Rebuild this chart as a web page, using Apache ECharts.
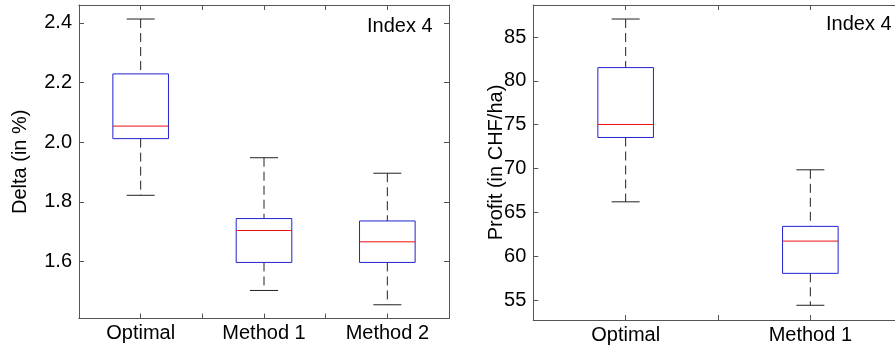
<!DOCTYPE html>
<html>
<head>
<meta charset="utf-8">
<script src="https://cdn.jsdelivr.net/npm/echarts@6/dist/echarts.min.js"></script>
<style>
  html, body { margin: 0; padding: 0; background: #fff; }
  #chart { width: 895px; height: 352px; }
</style>
</head>
<body>
<div id="chart"></div>
<script>
// Left panel: Delta (in %)
const deltaCategories = ['Optimal', 'Method 1', 'Method 2'];
const deltaLow = [1.822, 1.503, 1.455];
const deltaQ1 = [2.012, 1.597, 1.597];
const deltaMedian = [2.054, 1.704, 1.666];
const deltaQ3 = [2.229, 1.744, 1.736];
const deltaHigh = [2.413, 1.948, 1.896];
const deltaTicks = [1.6, 1.8, 2.0, 2.2, 2.4];

// Right panel: Profit (in CHF/ha)
const profitCategories = ['Optimal', 'Method 1'];
const profitLow = [66.2, 54.4];
const profitQ1 = [73.54, 58.04];
const profitMedian = [75.02, 61.72];
const profitQ3 = [81.51, 63.4];
const profitHigh = [87.05, 69.85];
const profitTicks = [55, 60, 65, 70, 75, 80, 85];

const FONT = 'Liberation Sans, Arial, Helvetica, sans-serif';
const FRAME = '#555';
const BOX_HALF = 27.8;
const CAP_HALF = 14;

function boxRows(low, q1, med, q3, high) {
  return low.map((v, i) => [i, v, q1[i], med[i], q3[i], high[i]]);
}

function renderBox(params, api) {
  const x = api.value(0);
  const pLow = api.coord([x, api.value(1)]);
  const pQ1 = api.coord([x, api.value(2)]);
  const pMed = api.coord([x, api.value(3)]);
  const pQ3 = api.coord([x, api.value(4)]);
  const pHigh = api.coord([x, api.value(5)]);
  const cx = pMed[0];
  const whisker = { stroke: '#222', lineWidth: 1, lineDash: [9, 5] };
  const cap = { stroke: '#222', lineWidth: 1 };
  return {
    type: 'group',
    children: [
      { type: 'line', shape: { x1: cx, y1: pHigh[1], x2: cx, y2: pQ3[1] }, style: whisker },
      { type: 'line', shape: { x1: cx, y1: pQ1[1], x2: cx, y2: pLow[1] }, style: whisker },
      { type: 'line', shape: { x1: cx - CAP_HALF, y1: pHigh[1], x2: cx + CAP_HALF, y2: pHigh[1] }, style: cap },
      { type: 'line', shape: { x1: cx - CAP_HALF, y1: pLow[1], x2: cx + CAP_HALF, y2: pLow[1] }, style: cap },
      { type: 'rect', shape: { x: cx - BOX_HALF, y: pQ3[1], width: BOX_HALF * 2, height: pQ1[1] - pQ3[1] },
        style: { fill: '#fff', stroke: '#2222d0', lineWidth: 1 } },
      { type: 'line', shape: { x1: cx - BOX_HALF, y1: pMed[1], x2: cx + BOX_HALF, y2: pMed[1] },
        style: { stroke: '#ee1111', lineWidth: 1 } }
    ]
  };
}

function xAxes(gridIndex, cats) {
  const line = { show: true, lineStyle: { color: FRAME, width: 1 } };
  const base = { gridIndex, type: 'category', data: cats, boundaryGap: true, axisLine: line, splitLine: { show: false } };
  return [
    Object.assign({}, base, {
      position: 'bottom',
      axisTick: { show: true, inside: true, length: 5, alignWithLabel: true, interval: 0, lineStyle: { color: FRAME } },
      axisLabel: { show: true, interval: 0, margin: 5, color: '#000', fontSize: 20, fontFamily: FONT }
    }),
    Object.assign({}, base, {
      position: 'bottom',
      axisTick: { show: true, inside: true, length: 5, interval: 0, lineStyle: { color: FRAME } },
      axisLabel: { show: false }
    }),
    Object.assign({}, base, {
      position: 'top',
      axisTick: { show: true, inside: true, length: 5, alignWithLabel: true, interval: 0, lineStyle: { color: FRAME } },
      axisLabel: { show: false }
    }),
    Object.assign({}, base, {
      position: 'top',
      axisTick: { show: true, inside: true, length: 5, interval: 0, lineStyle: { color: FRAME } },
      axisLabel: { show: false }
    })
  ];
}

function yAxes(gridIndex, min, max, ticks, name, nameGap, digits) {
  const line = { show: true, lineStyle: { color: FRAME, width: 1 } };
  const tick = { show: true, inside: true, length: 5, customValues: ticks, lineStyle: { color: FRAME } };
  return [
    {
      gridIndex, type: 'value', position: 'left', min, max,
      axisLine: line, axisTick: tick, splitLine: { show: false },
      axisLabel: { show: true, customValues: ticks, margin: 7, color: '#000', fontSize: 20, fontFamily: FONT,
        formatter: v => Number(v).toFixed(digits) },
      name, nameLocation: 'middle', nameRotate: 90, nameGap, nameMoveOverlap: false,
      nameTextStyle: { color: '#000', fontSize: 20, fontFamily: FONT }
    },
    {
      gridIndex, type: 'value', position: 'right', min, max,
      axisLine: line, axisTick: tick, splitLine: { show: false },
      axisLabel: { show: false }
    }
  ];
}

const chart = echarts.init(document.getElementById('chart'), null, { renderer: 'canvas' });

chart.setOption({
  backgroundColor: '#fff',
  animation: false,
  grid: [
    { left: 79, top: 5, width: 370, height: 313.5, containLabel: false, outerBoundsMode: 'none' },
    { left: 533.3, top: 5, width: 369.4, height: 315, containLabel: false, outerBoundsMode: 'none' }
  ],
  xAxis: xAxes(0, deltaCategories).concat(xAxes(1, profitCategories)),
  yAxis: yAxes(0, 1.409, 2.46, deltaTicks, 'Delta (in %)', 49, 1)
    .concat(yAxes(1, 52.72, 88.65, profitTicks, 'Profit (in CHF/ha)', 27, 0)),
  graphic: [
    { type: 'text', left: 367, top: 16, style: { text: 'Index 4', fill: '#000', fontSize: 20, fontFamily: FONT } },
    { type: 'text', left: 826, top: 14, style: { text: 'Index 4', fill: '#000', fontSize: 20, fontFamily: FONT } }
  ],
  series: [
    {
      type: 'custom', xAxisIndex: 0, yAxisIndex: 0,
      encode: { x: 0, y: [1, 2, 3, 4, 5] },
      renderItem: renderBox,
      data: boxRows(deltaLow, deltaQ1, deltaMedian, deltaQ3, deltaHigh)
    },
    {
      type: 'custom', xAxisIndex: 4, yAxisIndex: 2,
      encode: { x: 0, y: [1, 2, 3, 4, 5] },
      renderItem: renderBox,
      data: boxRows(profitLow, profitQ1, profitMedian, profitQ3, profitHigh)
    }
  ]
});
</script>
</body>
</html>
